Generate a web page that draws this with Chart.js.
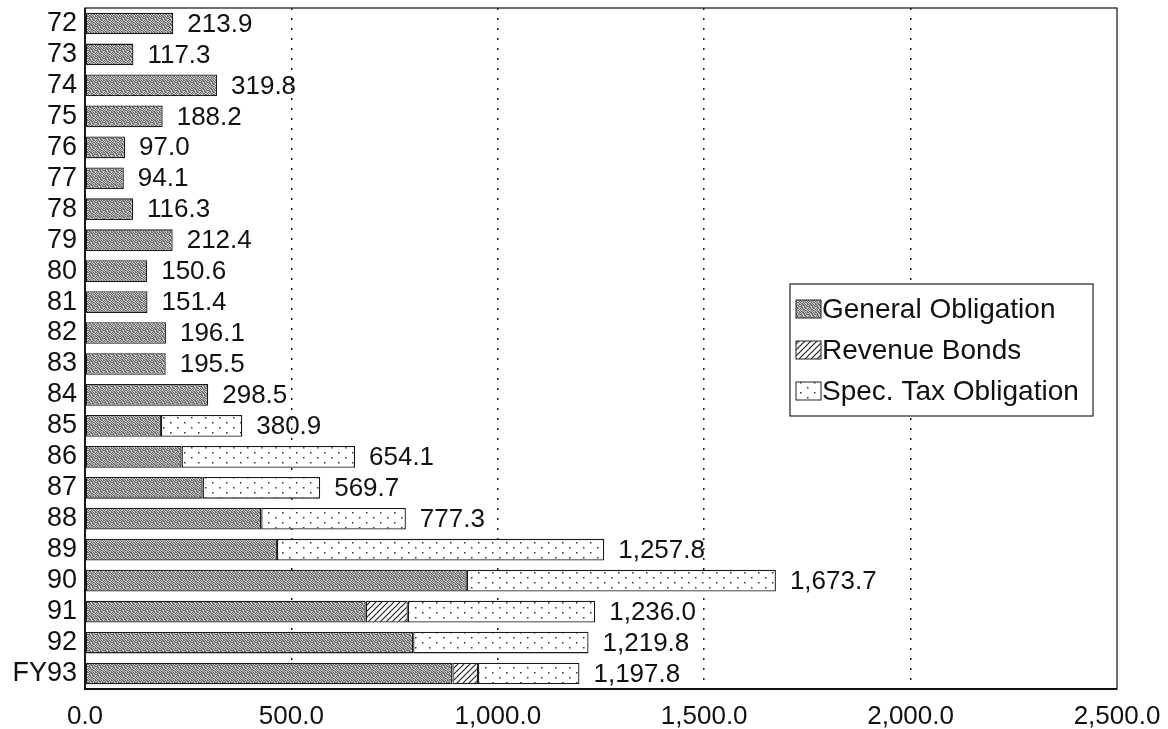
<!DOCTYPE html>
<html>
<head>
<meta charset="utf-8">
<script src="https://cdn.jsdelivr.net/npm/chart.js@4.4.0/dist/chart.umd.min.js"></script>
<style>
html,body{margin:0;padding:0;background:#fff;}
#wrap{width:1168px;height:729px;position:relative;}
</style>
</head>
<body>
<div id="wrap"><canvas id="c" width="1168" height="729"></canvas></div>
<script>
// ---- data ----
const categories = ['72','73','74','75','76','77','78','79','80','81','82','83','84','85','86','87','88','89','90','91','92','FY93'];
const generalObligation = [213.9,117.3,319.8,188.2,97.0,94.1,116.3,212.4,150.6,151.4,196.1,195.5,298.5,184.0,234.0,285.0,427.0,465.0,925.0,680.0,795.0,890.0];
const revenueBonds      = [0,0,0,0,0,0,0,0,0,0,0,0,0,0,0,0,0,0,0,102.0,0,62.0];
const specTaxObligation = [0,0,0,0,0,0,0,0,0,0,0,0,0,196.9,420.1,284.7,350.3,792.8,748.7,454.0,424.8,245.8];
const totalLabels = ['213.9','117.3','319.8','188.2','97.0','94.1','116.3','212.4','150.6','151.4','196.1','195.5','298.5','380.9','654.1','569.7','777.3','1,257.8','1,673.7','1,236.0','1,219.8','1,197.8'];
const xTickLabels = ['0.0','500.0','1,000.0','1,500.0','2,000.0','2,500.0'];
const seriesNames = ['General Obligation','Revenue Bonds','Spec. Tax Obligation'];

const FONT = '"Liberation Sans", Arial, Helvetica, sans-serif';

// ---- fill patterns ----
function makePattern(w, h, draw) {
  const cv = document.createElement('canvas');
  cv.width = w; cv.height = h;
  const g = cv.getContext('2d');
  draw(g, w, h);
  return document.getElementById('c').getContext('2d').createPattern(cv, 'repeat');
}
const goTile = [
  [1,0,1,1,0,1,0,1],
  [0,1,0,1,1,0,1,0],
  [1,1,0,0,1,0,1,1],
  [0,1,1,0,1,1,0,0],
  [1,0,1,0,0,1,1,0],
  [0,1,0,1,1,0,0,1],
  [1,0,0,1,0,1,1,0],
  [0,1,1,0,1,0,0,1]
];
const goPattern = makePattern(8, 8, (g) => {
  for (let y = 0; y < 8; y++) for (let x = 0; x < 8; x++) {
    g.fillStyle = goTile[y][x] ? '#666666' : '#cccccc';
    g.fillRect(x, y, 1, 1);
  }
});
const revPattern = makePattern(6, 6, (g, w, h) => {
  g.fillStyle = '#fff'; g.fillRect(0, 0, w, h);
  g.strokeStyle = '#222'; g.lineWidth = 1.2;
  g.beginPath();
  g.moveTo(-1, h + 1); g.lineTo(w + 1, -1);
  g.moveTo(-1, 1); g.lineTo(1, -1);
  g.moveTo(w - 1, h + 1); g.lineTo(w + 1, h - 1);
  g.stroke();
});
const stPattern = makePattern(14, 10, (g, w, h) => {
  g.fillStyle = '#fff'; g.fillRect(0, 0, w, h);
  g.fillStyle = '#333';
  g.fillRect(2, 2, 1.5, 1.5);
  g.fillRect(9, 7, 1.5, 1.5);
});
const patterns = [goPattern, revPattern, stPattern];

// ---- plugins ----
const framePlugin = {
  id: 'frame',
  afterDatasetsDraw(chart) {
    const {ctx, chartArea: a} = chart;
    ctx.save();
    ctx.strokeStyle = '#111';
    ctx.lineWidth = 1.2;
    ctx.strokeRect(a.left, a.top, a.right - a.left, a.bottom - a.top);
    ctx.lineWidth = 1.8;
    ctx.beginPath();
    ctx.moveTo(a.left, a.top); ctx.lineTo(a.left, a.bottom); ctx.lineTo(a.right, a.bottom);
    ctx.stroke();
    ctx.restore();
  }
};

const valueLabelPlugin = {
  id: 'valueLabels',
  afterDatasetsDraw(chart) {
    const {ctx} = chart;
    const xs = chart.scales.x;
    const meta0 = chart.getDatasetMeta(0);
    ctx.save();
    ctx.font = '26px ' + FONT;
    ctx.fillStyle = '#111';
    ctx.textBaseline = 'middle';
    ctx.textAlign = 'left';
    categories.forEach((c, i) => {
      const total = generalObligation[i] + revenueBonds[i] + specTaxObligation[i];
      const x = xs.getPixelForValue(total) + 14;
      const y = meta0.data[i].y;
      ctx.fillText(totalLabels[i], x, y + 1);
    });
    ctx.restore();
  }
};

const legendPlugin = {
  id: 'customLegend',
  afterDraw(chart) {
    const {ctx} = chart;
    const bx = 790, by = 284, bw = 303, bh = 132;
    ctx.save();
    ctx.fillStyle = '#fff';
    ctx.fillRect(bx, by, bw, bh);
    ctx.strokeStyle = '#222';
    ctx.lineWidth = 1.2;
    ctx.strokeRect(bx, by, bw, bh);
    ctx.font = '28px ' + FONT;
    ctx.textBaseline = 'middle';
    ctx.textAlign = 'left';
    const rowsY = [309, 350, 391];
    chart.data.datasets.forEach((ds, i) => {
      const y = rowsY[i];
      ctx.fillStyle = ds.backgroundColor;
      ctx.fillRect(bx + 6, y - 9, 25, 18);
      ctx.strokeStyle = '#222';
      ctx.lineWidth = 1;
      ctx.strokeRect(bx + 6, y - 9, 25, 18);
      ctx.fillStyle = '#111';
      ctx.fillText(ds.label, bx + 32, y + 1);
    });
    ctx.restore();
  }
};

// ---- chart ----
const datasets = [generalObligation, revenueBonds, specTaxObligation].map((d, i) => ({
  label: seriesNames[i],
  data: d,
  backgroundColor: patterns[i],
  borderColor: '#1a1a1a',
  borderWidth: 1.3,
  borderSkipped: false,
  categoryPercentage: 1.0,
  barPercentage: 0.7,
  stack: 's'
}));

new Chart(document.getElementById('c'), {
  type: 'bar',
  data: { labels: categories, datasets },
  options: {
    indexAxis: 'y',
    responsive: false,
    animation: false,
    devicePixelRatio: 1,
    layout: { padding: { top: 8, right: 51, left: 0, bottom: 0 } },
    plugins: { legend: { display: false }, tooltip: { enabled: false } },
    scales: {
      x: {
        type: 'linear',
        stacked: true,
        min: 0, max: 2500,
        ticks: {
          stepSize: 500,
          color: '#111',
          font: { family: FONT, size: 26 },
          padding: 12,
          callback: (v) => xTickLabels[Math.round(v / 500)]
        },
        grid: {
          display: true,
          drawTicks: false,
          color: (ctx) => (ctx.tick && (ctx.tick.value === 0 || ctx.tick.value === 2500)) ? 'rgba(0,0,0,0)' : '#222',
          lineWidth: 1.5
        },
        border: { display: false, dash: [2, 8] },
        afterFit: (s) => { s.height = 40; s.paddingLeft = 0; s.paddingRight = 0; }
      },
      y: {
        stacked: true,
        ticks: {
          color: '#111',
          font: { family: FONT, size: 27 },
          padding: 8,
          autoSkip: false
        },
        grid: { display: false, drawTicks: false },
        border: { display: false },
        afterFit: (s) => { s.width = 85; s.paddingTop = 0; s.paddingBottom = 0; }
      }
    }
  },
  plugins: [framePlugin, valueLabelPlugin, legendPlugin]
});
</script>
</body>
</html>
